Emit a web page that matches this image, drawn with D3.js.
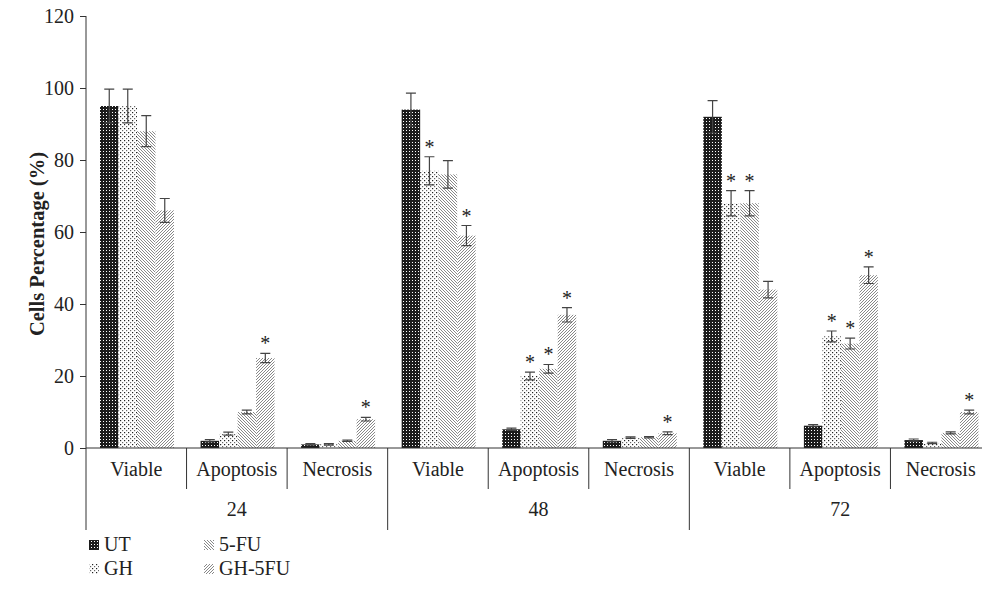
<!DOCTYPE html>
<html><head><meta charset="utf-8">
<script src="https://cdn.jsdelivr.net/npm/d3@7"></script>
<style>body{margin:0;background:#fff}svg{display:block}text{font-family:"Liberation Serif","DejaVu Serif",serif;fill:#222}</style>
</head><body><svg id="c" width="982" height="608"></svg>
<script>
const times = ["24","48","72"];
const states = ["Viable","Apoptosis","Necrosis"];
const series = ["UT","GH","5-FU","GH-5FU"];
const UT   = [95,2,1, 94,5.2,2, 92,6.2,2.2];
const GH   = [95,4,1, 77,20,2.9, 68,31,1.4];
const FU   = [88,10,2, 76,22,3, 68,29,4.2];
const GHFU = [66,25,8, 59,37,4.1, 44,48,10];
const UT_err   = [4.7,0.3,0.2, 4.6,0.3,0.3, 4.5,0.3,0.3];
const GH_err   = [4.7,0.4,0.2, 3.9,1.1,0.2, 3.5,1.5,0.2];
const FU_err   = [4.3,0.5,0.2, 3.8,1.2,0.2, 3.5,1.5,0.3];
const GHFU_err = [3.3,1.3,0.5, 2.8,2.0,0.4, 2.3,2.3,0.5];
const UT_star   = [0,0,0, 0,0,0, 0,0,0];
const GH_star   = [0,0,0, 1,1,0, 1,1,0];
const FU_star   = [0,0,0, 0,1,0, 1,1,0];
const GHFU_star = [0,1,1, 1,1,1, 0,1,1];
const yTicks = [0,20,40,60,80,100,120];

const vals = [UT,GH,FU,GHFU], errs=[UT_err,GH_err,FU_err,GHFU_err], stars=[UT_star,GH_star,FU_star,GHFU_star];
const cats = [];
times.forEach(t=>states.forEach(s=>cats.push(t+"|"+s)));
const FS = 20;

const svg = d3.select("#c");
const defs = svg.append("defs");
let p = defs.append("pattern").attr("id","pUT").attr("patternUnits","userSpaceOnUse").attr("width",3).attr("height",3);
p.append("rect").attr("width",3).attr("height",3).attr("fill","#1c1c1c");
p.append("rect").attr("x",1).attr("y",1).attr("width",1).attr("height",1).attr("fill","#fff");
p = defs.append("pattern").attr("id","pGH").attr("patternUnits","userSpaceOnUse").attr("width",4).attr("height",4);
p.append("rect").attr("width",4).attr("height",4).attr("fill","#fff");
p.append("rect").attr("x",0).attr("y",0).attr("width",1.2).attr("height",1.2).attr("fill","#222");
p.append("rect").attr("x",2).attr("y",2).attr("width",1.2).attr("height",1.2).attr("fill","#666");
p = defs.append("pattern").attr("id","pFU").attr("patternUnits","userSpaceOnUse").attr("width",3).attr("height",3);
p.append("rect").attr("width",3).attr("height",3).attr("fill","#fff");
p.append("path").attr("d","M-1,-1L4,4M-1,2L1,4M2,-1L4,1").attr("stroke","#7a7a7a").attr("stroke-width",0.9);
p = defs.append("pattern").attr("id","pGHFU").attr("patternUnits","userSpaceOnUse").attr("width",3).attr("height",3);
p.append("rect").attr("width",3).attr("height",3).attr("fill","#fff");
p.append("path").attr("d","M-1,4L4,-1M-1,1L1,-1M2,4L4,2").attr("stroke","#7a7a7a").attr("stroke-width",0.9);
const fills = ["url(#pUT)","url(#pGH)","url(#pFU)","url(#pGHFU)"];

const x0 = d3.scaleBand().domain(cats).range([86,991]).padding(0);
const x1 = d3.scaleBand().domain(series).range([14,88]).padding(0);
const y = d3.scaleLinear().domain([0,120]).range([448,16]);

series.forEach((s,si)=>{
  const g = svg.append("g");
  cats.forEach((c,ci)=>{
    const v = vals[si][ci], e = errs[si][ci];
    const bx = x0(c)+x1(s), w = x1.bandwidth();
    g.append("rect").attr("x",bx).attr("y",y(v)).attr("width",w).attr("height",y(0)-y(v)).attr("fill",fills[si]);
    const cx = bx+w/2;
    g.append("path").attr("d",`M${cx-5},${y(v+e)}H${cx+5}M${cx},${y(v+e)}V${y(v-e)}M${cx-5},${y(v-e)}H${cx+5}`)
      .attr("stroke","#444").attr("stroke-width",1.2).attr("fill","none");
    if(stars[si][ci]) g.append("text").attr("x",cx).attr("y",y(v+e)-3).attr("text-anchor","middle").attr("font-size",20).attr("fill","#333").text("*");
  });
});

const ya = svg.append("g").attr("transform","translate(86,0)").call(d3.axisLeft(y).tickValues(yTicks).tickSize(6).tickPadding(6));
ya.select(".domain").attr("stroke","#333").attr("d","M0,16V448");
ya.selectAll(".tick line").attr("stroke","#333");
ya.selectAll(".tick text").attr("font-size",FS).attr("fill","#222").style("font-family","Liberation Serif");

svg.append("line").attr("x1",86).attr("x2",991).attr("y1",448).attr("y2",448).attr("stroke","#333").attr("stroke-width",1);
cats.forEach((c,ci)=>{
  const st = c.split("|")[1];
  svg.append("text").attr("x",x0(c)+x0.bandwidth()/2).attr("y",476).attr("text-anchor","middle").attr("font-size",FS).text(st);
  if(ci>0){
    const big = ci%3===0;
    svg.append("line").attr("x1",x0(c)).attr("x2",x0(c)).attr("y1",448).attr("y2",big?530:489).attr("stroke","#333");
  }
});
svg.append("line").attr("x1",86).attr("x2",86).attr("y1",448).attr("y2",530).attr("stroke","#333");
times.forEach((t,ti)=>{
  const a = x0(t+"|Viable"), b = x0(t+"|Necrosis")+x0.bandwidth();
  svg.append("text").attr("x",(a+b)/2).attr("y",516).attr("text-anchor","middle").attr("font-size",FS).text(t);
});

svg.append("text").attr("transform","translate(44,244) rotate(-90)").attr("text-anchor","middle").attr("font-size",20.5).attr("font-weight","bold").text("Cells Percentage (%)");

const leg = [[0,0],[0,1],[1,0],[1,1]];
series.forEach((s,si)=>{
  const lx = 89 + leg[si][0]*115, ly = 546 + leg[si][1]*24;
  svg.append("rect").attr("x",lx).attr("y",ly-6).attr("width",10).attr("height",10).attr("fill",fills[si]);
  svg.append("text").attr("x",lx+15).attr("y",ly+5).attr("font-size",FS).text(s);
});
</script></body></html>
